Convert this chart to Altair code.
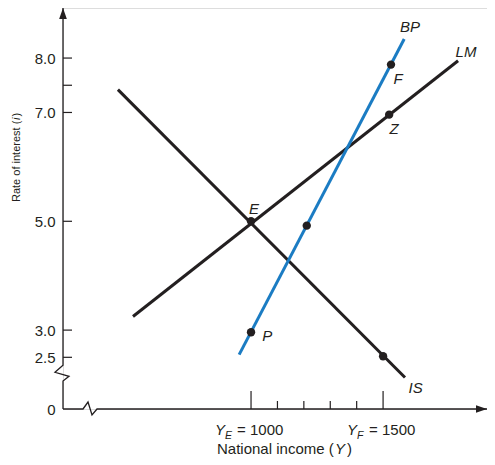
import altair as alt
import pandas as pd

INK = "#231f20"
BLUE = "#1b7cc3"
FONT = "Liberation Sans"

# ---------------- data ----------------
X_DOMAIN = [288, 1893.5]
Y_DOMAIN = [1.55, 8.92]          # 1.55 stands for the broken-axis zero

curve_name = ["IS", "IS", "LM", "LM", "BP", "BP"]
curve_x = [496, 1583, 553, 1784, 955, 1580]
curve_y = [7.42, 2.13, 3.25, 7.95, 2.55, 8.35]

point_x = [1000, 1530, 1523, 1000, 1211, 1500]
point_y = [5.0, 7.88, 6.96, 2.96, 4.92, 2.52]

label_text = ["BP", "LM", "F", "Z", "E", "P", "IS"]
label_x = [1602, 1814, 1557, 1542, 1011, 1061, 1623]
label_y = [8.57, 8.12, 7.61, 6.70, 5.22, 2.90, 1.94]

y_tick_values = [2.5, 3.0, 5.0, 7.0, 7.5, 8.0]
y_label_values = [1.55, 2.5, 3.0, 5.0, 7.0, 8.0]
x_major_ticks = [1000, 1500]
x_minor_ticks = [1100, 1200, 1300, 1400]
x_tick_sub = ["E", "F"]
x_tick_num = ["= 1000", "= 1500"]

yaxis_x = [288, 288, 310.7, 257.7, 288, 288]
yaxis_y = [1.55, 2.064, 2.151, 2.225, 2.353, 8.92]
xaxis_x = [288, 363.8, 382.7, 397.8, 416.8, 1893.5]
xaxis_y = [1.55, 1.55, 1.678, 1.44, 1.55, 1.55]

# ---------------- tables ----------------
curves = pd.DataFrame({"name": curve_name, "x": curve_x, "y": curve_y})
points = pd.DataFrame({"x": point_x, "y": point_y})
labels = pd.DataFrame({"t": label_text, "x": label_x, "y": label_y})
yticks = pd.DataFrame({"y": y_tick_values})
xmaj = pd.DataFrame({"x": x_major_ticks, "sub": x_tick_sub, "num": x_tick_num})
xmin_ = pd.DataFrame({"x": x_minor_ticks})
yax = pd.DataFrame({"x": yaxis_x, "y": yaxis_y, "o": list(range(len(yaxis_x)))})
xax = pd.DataFrame({"x": xaxis_x, "y": xaxis_y, "o": list(range(len(xaxis_x)))})
ytip = pd.DataFrame({"x": [X_DOMAIN[0]], "y": [Y_DOMAIN[1]]})
xtip = pd.DataFrame({"x": [X_DOMAIN[1]], "y": [Y_DOMAIN[0]]})

W, H = 424, 401
xs = alt.Scale(domain=X_DOMAIN, nice=False, zero=False)
ys = alt.Scale(domain=Y_DOMAIN, nice=False, zero=False)
yaxis = alt.Axis(values=y_label_values,
                 labelExpr="datum.value < 2 ? '0' : format(datum.value, '.1f')",
                 ticks=False, tickSize=0, domain=False, grid=False,
                 labelPadding=8, labelFontSize=15, labelFont=FONT,
                 labelColor=INK, labelOverlap=False, labelFlush=False,
                 title=None)


def X(f="x"):
    return alt.X(f, type="quantitative", scale=xs, axis=None)


def Y(f="y"):
    return alt.Y(f, type="quantitative", scale=ys, axis=yaxis)


layers = []

# axis lines with breaks
layers.append(alt.Chart(yax).mark_line(color=INK, strokeWidth=1.3).encode(
    x=X(), y=Y(), order="o:Q"))
layers.append(alt.Chart(xax).mark_line(color=INK, strokeWidth=1.3).encode(
    x=X(), y=Y(), order="o:Q"))
# arrow heads
layers.append(alt.Chart(ytip).mark_point(shape="M0,0 L0.7,2 L-0.7,2 Z", filled=True,
                                         size=121, color=INK, opacity=1, strokeWidth=0).encode(x=X(), y=Y()))
layers.append(alt.Chart(xtip).mark_point(shape="M0,0 L-2,-0.7 L-2,0.7 Z", filled=True,
                                         size=121, color=INK, opacity=1, strokeWidth=0).encode(x=X(), y=Y()))
# y ticks (inward)
layers.append(alt.Chart(yticks).mark_rule(color=INK, strokeWidth=1.2).encode(
    y=Y(), x=alt.value(0), x2=alt.value(9)))
# x ticks (inward)
layers.append(alt.Chart(xmaj).mark_rule(color=INK, strokeWidth=1.2).encode(
    x=X(), y=alt.value(H), y2=alt.value(H - 18)))
layers.append(alt.Chart(xmin_).mark_rule(color=INK, strokeWidth=1.2).encode(
    x=X(), y=alt.value(H), y2=alt.value(H - 8)))

# curves
layers.append(alt.Chart(curves).mark_line(strokeWidth=3, strokeCap="butt").encode(
    x=X(), y=Y(), detail="name:N",
    color=alt.Color("name:N", scale=alt.Scale(domain=["IS", "LM", "BP"],
                                               range=[INK, INK, BLUE]), legend=None)))
# points
layers.append(alt.Chart(points).mark_circle(size=70, color=INK, opacity=1).encode(
    x=X(), y=Y()))
# curve labels
layers.append(alt.Chart(labels).mark_text(font=FONT, fontSize=15, fontStyle="italic",
                                          color=INK, align="center", baseline="middle").encode(
    x=X(), y=Y(), text="t:N"))

# x tick labels Y_E = 1000, Y_F = 1500
layers.append(alt.Chart(xmaj).mark_text(font=FONT, fontSize=15, fontStyle="italic",
                                        color=INK, align="left", baseline="alphabetic",
                                        dx=-36).encode(
    x=X(), y=alt.value(H + 26), text=alt.value("Y")))
layers.append(alt.Chart(xmaj).mark_text(font=FONT, fontSize=10.5, fontStyle="italic",
                                        color=INK, align="left", baseline="alphabetic",
                                        dx=-26).encode(
    x=X(), y=alt.value(H + 30), text="sub:N"))
layers.append(alt.Chart(xmaj).mark_text(font=FONT, fontSize=15, color=INK,
                                        align="left", baseline="alphabetic",
                                        dx=-14).encode(
    x=X(), y=alt.value(H + 26), text="num:N"))

# x title: National income (Y)
TY = H + 45
tdf = pd.DataFrame({"a": [0]})
layers.append(alt.Chart(tdf).mark_text(font=FONT, fontSize=15, color=INK,
                                       align="left", baseline="alphabetic").encode(
    x=alt.value(154), y=alt.value(TY), text=alt.value("National income (")))
layers.append(alt.Chart(tdf).mark_text(font=FONT, fontSize=15, color=INK, fontStyle="italic",
                                       align="left", baseline="alphabetic").encode(
    x=alt.value(272), y=alt.value(TY), text=alt.value("Y")))
layers.append(alt.Chart(tdf).mark_text(font=FONT, fontSize=15, color=INK,
                                       align="left", baseline="alphabetic").encode(
    x=alt.value(284), y=alt.value(TY), text=alt.value(")")))

# y title: Rate of interest (i)
layers.append(alt.Chart(tdf).mark_text(font=FONT, fontSize=11, color=INK, angle=270,
                                       align="left", baseline="alphabetic").encode(
    x=alt.value(-43.5), y=alt.value(194), text=alt.value("Rate of interest (")))
layers.append(alt.Chart(tdf).mark_text(font=FONT, fontSize=11, color=INK, angle=270,
                                       fontStyle="italic",
                                       align="left", baseline="alphabetic").encode(
    x=alt.value(-43.5), y=alt.value(112), text=alt.value("i")))
layers.append(alt.Chart(tdf).mark_text(font=FONT, fontSize=11, color=INK, angle=270,
                                       align="left", baseline="alphabetic").encode(
    x=alt.value(-43.5), y=alt.value(108.5), text=alt.value(")")))

chart = alt.layer(*layers).properties(
    width=W, height=H,
    autosize=alt.AutoSizeParams(type="none"),
    padding={"left": 55, "top": 0, "right": 0, "bottom": 48},
).configure_view(stroke=None).configure(background="white")

chart.save("out.html", embed_options={"renderer": "svg", "actions": False})
